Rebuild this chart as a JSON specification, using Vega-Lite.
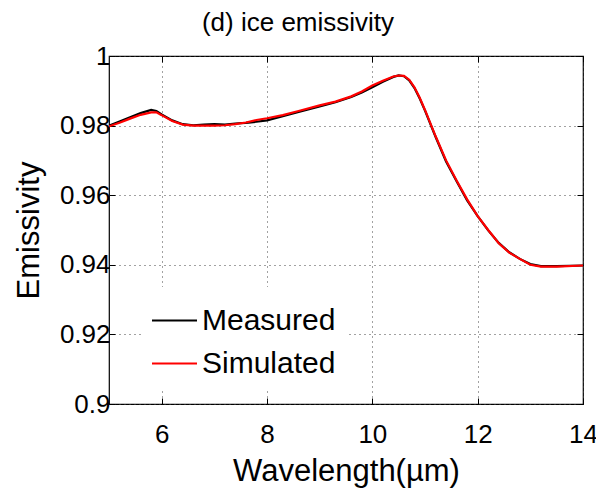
{
  "$schema": "https://vega.github.io/schema/vega-lite/v6.json",
  "width": 474,
  "height": 348,
  "autosize": {"type": "none"},
  "padding": {"left": 109, "top": 56, "right": 13, "bottom": 86},
  "background": "white",
  "title": {
    "text": "(d) ice emissivity",
    "font": "Liberation Sans",
    "fontSize": 26,
    "fontWeight": "normal",
    "color": "black",
    "anchor": "middle",
    "frame": "group",
    "dx": -48,
    "offset": 7
  },
  "config": {
    "view": {"stroke": "black", "strokeWidth": 1.2},
    "axis": {
      "labelFont": "Liberation Sans",
      "titleFont": "Liberation Sans",
      "labelColor": "black",
      "titleColor": "black",
      "domain": false,
      "tickColor": "black",
      "tickSize": -6,
      "tickWidth": 1,
      "gridColor": "#444444",
      "gridDash": [1, 4],
      "gridWidth": 1
    }
  },
  "data": {
    "values": [
      {"wl": 5.0, "e": 0.9800, "series": "Measured"},
      {"wl": 5.2, "e": 0.9812, "series": "Measured"},
      {"wl": 5.4, "e": 0.9824, "series": "Measured"},
      {"wl": 5.6, "e": 0.9836, "series": "Measured"},
      {"wl": 5.8, "e": 0.9845, "series": "Measured"},
      {"wl": 5.9, "e": 0.9842, "series": "Measured"},
      {"wl": 6.0, "e": 0.9832, "series": "Measured"},
      {"wl": 6.2, "e": 0.9815, "series": "Measured"},
      {"wl": 6.4, "e": 0.9804, "series": "Measured"},
      {"wl": 6.6, "e": 0.9801, "series": "Measured"},
      {"wl": 6.8, "e": 0.9803, "series": "Measured"},
      {"wl": 7.0, "e": 0.9804, "series": "Measured"},
      {"wl": 7.2, "e": 0.9803, "series": "Measured"},
      {"wl": 7.4, "e": 0.9806, "series": "Measured"},
      {"wl": 7.6, "e": 0.9808, "series": "Measured"},
      {"wl": 7.8, "e": 0.9811, "series": "Measured"},
      {"wl": 8.0, "e": 0.9815, "series": "Measured"},
      {"wl": 8.3, "e": 0.9827, "series": "Measured"},
      {"wl": 8.6, "e": 0.9839, "series": "Measured"},
      {"wl": 9.0, "e": 0.9855, "series": "Measured"},
      {"wl": 9.3, "e": 0.9867, "series": "Measured"},
      {"wl": 9.6, "e": 0.9882, "series": "Measured"},
      {"wl": 9.8, "e": 0.9895, "series": "Measured"},
      {"wl": 10.0, "e": 0.9910, "series": "Measured"},
      {"wl": 10.2, "e": 0.9926, "series": "Measured"},
      {"wl": 10.4, "e": 0.9940, "series": "Measured"},
      {"wl": 10.5, "e": 0.9944, "series": "Measured"},
      {"wl": 10.6, "e": 0.9942, "series": "Measured"},
      {"wl": 10.7, "e": 0.9930, "series": "Measured"},
      {"wl": 10.8, "e": 0.9908, "series": "Measured"},
      {"wl": 10.9, "e": 0.9878, "series": "Measured"},
      {"wl": 11.0, "e": 0.9843, "series": "Measured"},
      {"wl": 11.2, "e": 0.9768, "series": "Measured"},
      {"wl": 11.4, "e": 0.9697, "series": "Measured"},
      {"wl": 11.6, "e": 0.9640, "series": "Measured"},
      {"wl": 11.8, "e": 0.9585, "series": "Measured"},
      {"wl": 12.0, "e": 0.9540, "series": "Measured"},
      {"wl": 12.2, "e": 0.9499, "series": "Measured"},
      {"wl": 12.4, "e": 0.9463, "series": "Measured"},
      {"wl": 12.6, "e": 0.9436, "series": "Measured"},
      {"wl": 12.8, "e": 0.9417, "series": "Measured"},
      {"wl": 13.0, "e": 0.9402, "series": "Measured"},
      {"wl": 13.2, "e": 0.9396, "series": "Measured"},
      {"wl": 13.5, "e": 0.9396, "series": "Measured"},
      {"wl": 14.0, "e": 0.9398, "series": "Measured"},
      {"wl": 5.0, "e": 0.9798, "series": "Simulated"},
      {"wl": 5.2, "e": 0.9808, "series": "Simulated"},
      {"wl": 5.4, "e": 0.9820, "series": "Simulated"},
      {"wl": 5.6, "e": 0.9831, "series": "Simulated"},
      {"wl": 5.8, "e": 0.9838, "series": "Simulated"},
      {"wl": 5.9, "e": 0.9838, "series": "Simulated"},
      {"wl": 6.0, "e": 0.9830, "series": "Simulated"},
      {"wl": 6.2, "e": 0.9813, "series": "Simulated"},
      {"wl": 6.4, "e": 0.9803, "series": "Simulated"},
      {"wl": 6.6, "e": 0.9800, "series": "Simulated"},
      {"wl": 6.8, "e": 0.9800, "series": "Simulated"},
      {"wl": 7.0, "e": 0.9800, "series": "Simulated"},
      {"wl": 7.2, "e": 0.9801, "series": "Simulated"},
      {"wl": 7.4, "e": 0.9804, "series": "Simulated"},
      {"wl": 7.6, "e": 0.9809, "series": "Simulated"},
      {"wl": 7.8, "e": 0.9816, "series": "Simulated"},
      {"wl": 8.0, "e": 0.9821, "series": "Simulated"},
      {"wl": 8.3, "e": 0.9830, "series": "Simulated"},
      {"wl": 8.6, "e": 0.9842, "series": "Simulated"},
      {"wl": 9.0, "e": 0.9858, "series": "Simulated"},
      {"wl": 9.3, "e": 0.9869, "series": "Simulated"},
      {"wl": 9.6, "e": 0.9884, "series": "Simulated"},
      {"wl": 9.8, "e": 0.9898, "series": "Simulated"},
      {"wl": 10.0, "e": 0.9915, "series": "Simulated"},
      {"wl": 10.2, "e": 0.9929, "series": "Simulated"},
      {"wl": 10.4, "e": 0.9941, "series": "Simulated"},
      {"wl": 10.5, "e": 0.9944, "series": "Simulated"},
      {"wl": 10.6, "e": 0.9943, "series": "Simulated"},
      {"wl": 10.7, "e": 0.9932, "series": "Simulated"},
      {"wl": 10.8, "e": 0.9910, "series": "Simulated"},
      {"wl": 10.9, "e": 0.9880, "series": "Simulated"},
      {"wl": 11.0, "e": 0.9845, "series": "Simulated"},
      {"wl": 11.2, "e": 0.9770, "series": "Simulated"},
      {"wl": 11.4, "e": 0.9700, "series": "Simulated"},
      {"wl": 11.6, "e": 0.9642, "series": "Simulated"},
      {"wl": 11.8, "e": 0.9588, "series": "Simulated"},
      {"wl": 12.0, "e": 0.9540, "series": "Simulated"},
      {"wl": 12.2, "e": 0.9500, "series": "Simulated"},
      {"wl": 12.4, "e": 0.9462, "series": "Simulated"},
      {"wl": 12.6, "e": 0.9435, "series": "Simulated"},
      {"wl": 12.8, "e": 0.9417, "series": "Simulated"},
      {"wl": 13.0, "e": 0.9400, "series": "Simulated"},
      {"wl": 13.2, "e": 0.9395, "series": "Simulated"},
      {"wl": 13.5, "e": 0.9395, "series": "Simulated"},
      {"wl": 14.0, "e": 0.9398, "series": "Simulated"}
    ]
  },
  "layer": [
    {
      "mark": {"type": "line", "strokeWidth": 2.2, "clip": true},
      "encoding": {
        "x": {
          "field": "wl", "type": "quantitative",
          "scale": {"domain": [5, 14], "nice": false, "zero": false},
          "axis": {
            "title": "Wavelength(µm)",
            "values": [6, 8, 10, 12, 14],
            "labelFontSize": 26,
            "titleFontSize": 31,
            "titleFontWeight": "normal",
            "labelPadding": 23,
            "titlePadding": 9,
            "labelFlush": false
          }
        },
        "y": {
          "field": "e", "type": "quantitative",
          "scale": {"domain": [0.9, 1], "nice": false, "zero": false},
          "axis": {
            "title": "Emissivity",
            "values": [0.9, 0.92, 0.94, 0.96, 0.98, 1],
            "labelExpr": "format(datum.value, '~g')",
            "labelFontSize": 26,
            "titleFontSize": 31,
            "titleFontWeight": "normal",
            "labelPadding": 5,
            "titlePadding": 14
          }
        },
        "color": {
          "field": "series", "type": "nominal",
          "scale": {"domain": ["Measured", "Simulated"], "range": ["#000000", "#ff0000"]},
          "legend": {
            "title": null,
            "orient": "none",
            "legendX": 32,
            "legendY": 231,
            "fillColor": "white",
            "padding": 10,
            "symbolType": "stroke",
            "symbolSize": 2025,
            "symbolStrokeWidth": 2,
            "labelFont": "Liberation Sans",
            "labelFontSize": 30,
            "labelColor": "black",
            "labelOffset": 4,
            "rowPadding": 4
          }
        }
      }
    },
    {
      "mark": {"type": "line", "opacity": 0},
      "encoding": {
        "x": {
          "field": "wl", "type": "quantitative",
          "axis": {"orient": "top", "title": null, "labels": false, "grid": false, "values": [6, 8, 10, 12, 14]}
        },
        "y": {
          "field": "e", "type": "quantitative",
          "axis": {"orient": "right", "title": null, "labels": false, "grid": false, "values": [0.9, 0.92, 0.94, 0.96, 0.98, 1]}
        },
        "detail": {"field": "series"}
      }
    }
  ],
  "resolve": {"axis": {"x": "independent", "y": "independent"}}
}
